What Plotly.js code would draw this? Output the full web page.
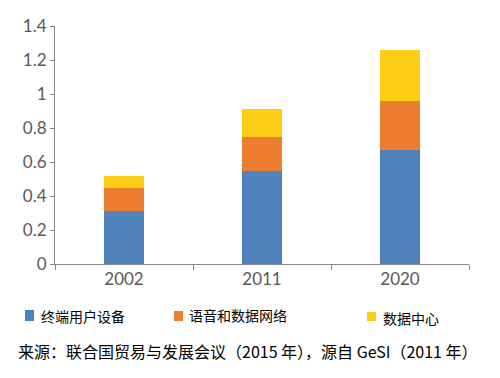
<!DOCTYPE html>
<html>
<head>
<meta charset="utf-8">
<script src="https://cdn.plot.ly/plotly-3.0.1.min.js"></script>
<style>html,body{margin:0;padding:0;background:#fff}#chart{width:500px;height:378px}</style>
</head>
<body>
<div id="chart"></div>
<script>
const years = ['2002', '2011', '2020'];
const seriesNames = ['终端用户设备', '语音和数据网络', '数据中心'];
const endUserDevices = [0.31, 0.55, 0.67];
const networks = [0.14, 0.20, 0.29];
const dataCenters = [0.07, 0.16, 0.30];
const yTickVals = [0, 0.2, 0.4, 0.6, 0.8, 1, 1.2, 1.4];
const yTickText = ['0', '0.2', '0.4', '0.6', '0.8', '1', '1.2', '1.4'];
const caption = '来源：联合国贸易与发展会议（2015 年），源自 GeSI（2011 年）';

const colors = ['rgb(79,129,189)', 'rgb(237,125,49)', 'rgb(252,205,20)'];
const seriesValues = [endUserDevices, networks, dataCenters];

const W = 500, H = 378;
const M = {l: 55, r: 31, t: 26, b: 114};
const pw = W - M.l - M.r, ph = H - M.t - M.b;
const px = x => (x - M.l) / pw;
const py = y => (H - M.b - y) / ph;

const traces = seriesValues.map((vals, i) => ({
  type: 'bar', x: years, y: vals, name: seriesNames[i],
  marker: {color: colors[i], line: {width: 0}},
  hoverinfo: 'skip'
}));

// legend layout (pixel positions of squares / labels)
const legendPos = [
  {sx: 25, sy0: 310, sy1: 321, tx: 39, ty: 316},
  {sx: 174, sy0: 311, sy1: 321, tx: 187, ty: 315},
  {sx: 367, sy0: 312, sy1: 321, tx: 381, ty: 318}
];
const shapes = legendPos.map((p, i) => ({
  type: 'rect', xref: 'paper', yref: 'paper',
  x0: px(p.sx), x1: px(p.sx + 9), y0: py(p.sy1), y1: py(p.sy0),
  fillcolor: colors[i], line: {width: 0}
}));
const annotations = legendPos.map((p, i) => ({
  xref: 'paper', yref: 'paper', x: px(p.tx), y: py(p.ty),
  xanchor: 'left', yanchor: 'middle', showarrow: false,
  text: seriesNames[i],
  font: {family: 'Noto Sans CJK SC', size: 14, color: '#000'}
}));
annotations.push({
  xref: 'paper', yref: 'paper', x: px(16), y: py(351),
  xanchor: 'left', yanchor: 'middle', showarrow: false,
  text: caption,
  font: {family: 'Noto Sans CJK SC', size: 16, color: '#000'}
});

const layout = {
  width: W, height: H,
  margin: M,
  paper_bgcolor: '#fff', plot_bgcolor: '#fff',
  barmode: 'stack', bargap: 0.71,
  showlegend: false,
  xaxis: {
    type: 'category', showline: true, linecolor: '#868686', linewidth: 1,
    ticks: 'outside', tickson: 'boundaries', ticklen: 5, tickcolor: '#868686',
    tickfont: {family: 'Lato', size: 17, color: '#595959'},
    showgrid: false, zeroline: false, fixedrange: true
  },
  yaxis: {
    range: [0, 1.4], tickvals: yTickVals, ticktext: yTickText,
    showline: true, linecolor: '#868686', linewidth: 1,
    ticks: 'outside', ticklen: 4, tickcolor: '#868686',
    tickfont: {family: 'Lato', size: 17, color: '#595959'},
    showgrid: false, zeroline: false, fixedrange: true
  },
  shapes: shapes,
  annotations: annotations
};

Plotly.newPlot('chart', traces, layout, {displayModeBar: false, staticPlot: true});
</script>
</body>
</html>
